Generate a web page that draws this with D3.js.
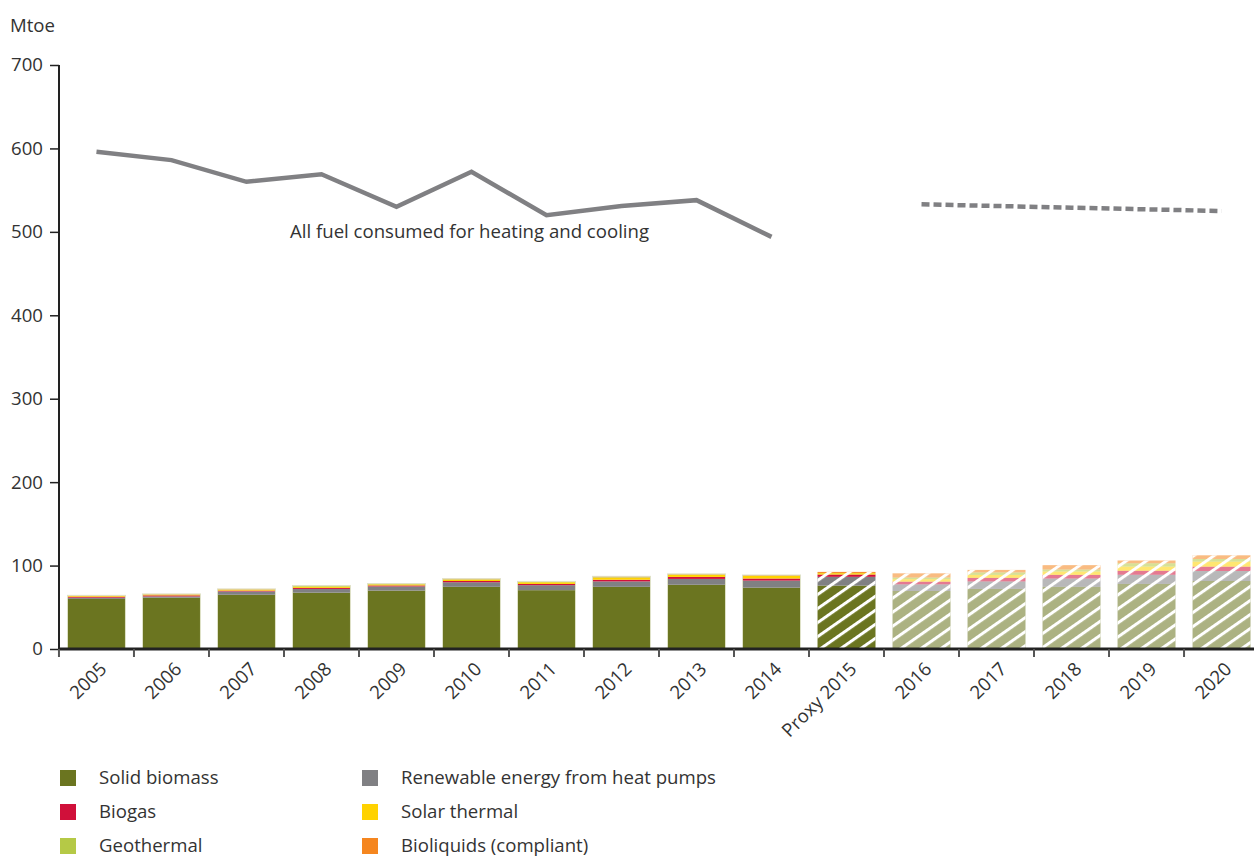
<!DOCTYPE html>
<html><head><meta charset="utf-8">
<script src="https://cdn.jsdelivr.net/npm/d3@7"></script>
<style>
body{margin:0;background:#fff;}
text{font-family:"Open Sans",sans-serif;fill:#333;}
</style></head>
<body>
<svg id="chart" width="1254" height="857"></svg>
<script>
const years = ["2005","2006","2007","2008","2009","2010","2011","2012","2013","2014","Proxy 2015","2016","2017","2018","2019","2020"];
const solidBiomass = [60, 61.5, 65, 67.5, 70, 74.5, 70.5, 74.5, 77, 73.5, 76, 69.5, 72, 74.5, 78, 81.5];
const heatPumps    = [1.5, 1.5, 4, 4.5, 5, 5.5, 6, 6.5, 7, 8.5, 10.5, 8, 9, 10, 11, 12];
const biogas       = [1.2, 1.3, 1, 1.3, 1.2, 1.5, 1.5, 2, 2.4, 2.5, 2.8, 3.2, 4.3, 4.4, 4.8, 5.2];
const solarThermal = [1, 1, 1.2, 1.5, 1.3, 1.7, 2, 2.5, 2.5, 3, 1.6, 3, 3.5, 4, 5, 6];
const geothermal   = [0.3, 0.3, 0.4, 0.8, 0.4, 0.5, 0.5, 0.6, 0.6, 0.6, 0.3, 2, 3, 2.4, 4, 3.2];
const bioliquids   = [0.3, 0.4, 0.4, 0.4, 0.5, 0.6, 0.5, 1, 0.5, 0.6, 1.2, 5, 3, 5.2, 3.3, 4.4];
const fuelYearsHist = ["2005","2006","2007","2008","2009","2010","2011","2012","2013","2014"];
const fuelHist      = [596, 586, 560, 569, 530, 572, 520, 531, 538, 494];
const fuelYearsProj = ["2016","2017","2018","2019","2020"];
const fuelProj      = [533, 531, 529, 527, 525];
const yTicks = [0,100,200,300,400,500,600,700];
const seriesNames = ["Solid biomass","Renewable energy from heat pumps","Biogas","Solar thermal","Geothermal","Bioliquids (compliant)"];
const seriesColors = ["#6b7520","#808083","#d0103a","#ffd200","#b5c946","#f5861f"];

const FS = 18.6;
const svg = d3.select("#chart");
const x = d3.scaleBand().domain(years).range([59,1259]).paddingInner(0.227).paddingOuter(0.113);
const y = d3.scaleLinear().domain([0,700]).range([649,65]);

const defs = svg.append("defs");
const pat = defs.append("pattern").attr("id","hatch").attr("patternUnits","userSpaceOnUse")
  .attr("width",11.5).attr("height",11.5).attr("patternTransform","rotate(55)");
pat.append("rect").attr("x",0).attr("y",0).attr("width",3).attr("height",11.5).attr("fill","#fff");

const table = years.map((yr,i)=>({year:yr, s0:solidBiomass[i], s1:heatPumps[i], s2:biogas[i], s3:solarThermal[i], s4:geothermal[i], s5:bioliquids[i]}));
const stack = d3.stack().keys(["s0","s1","s2","s3","s4","s5"])(table);
const total = d=>d.s0+d.s1+d.s2+d.s3+d.s4+d.s5;

const gBars = svg.append("g");
stack.forEach((layer,k)=>{
  gBars.selectAll(null).data(layer).enter().append("rect")
    .attr("x",d=>x(d.data.year))
    .attr("width",x.bandwidth())
    .attr("y",d=>y(d[1]))
    .attr("height",d=>Math.max(0,y(d[0])-y(d[1])))
    .attr("fill",seriesColors[k])
    .attr("opacity",d=>{const i=years.indexOf(d.data.year); return i>10?0.56:1;});
});
gBars.selectAll(null).data(table.filter((d,i)=>i<10)).enter().append("rect")
  .attr("x",d=>x(d.year)).attr("width",x.bandwidth())
  .attr("y",d=>y(total(d)))
  .attr("height",d=>y(0)-y(total(d)))
  .attr("fill","none").attr("stroke","#dfe2c8").attr("stroke-width",1);
gBars.selectAll(null).data(table.filter((d,i)=>i>=10)).enter().append("rect")
  .attr("x",d=>x(d.year)).attr("width",x.bandwidth())
  .attr("y",d=>y(total(d)))
  .attr("height",d=>y(0)-y(total(d)))
  .attr("fill","url(#hatch)");

const cx = d=>x(d)+x.bandwidth()/2;
const line = d3.line().x(d=>cx(d[0])).y(d=>y(d[1]));
svg.append("path").datum(fuelYearsHist.map((d,i)=>[d,fuelHist[i]])).attr("d",line)
  .attr("fill","none").attr("stroke","#808083").attr("stroke-width",4.5).attr("stroke-linejoin","miter");
svg.append("path").datum(fuelYearsProj.map((d,i)=>[d,fuelProj[i]])).attr("d",line)
  .attr("fill","none").attr("stroke","#808083").attr("stroke-width",4.5).attr("stroke-dasharray","8,4");
svg.append("text").attr("x",290).attr("y",238).attr("font-size",FS).text("All fuel consumed for heating and cooling");

const yAxis = svg.append("g").attr("transform","translate(59,0)")
  .call(d3.axisLeft(y).tickValues(yTicks).tickSize(9).tickPadding(7));
yAxis.select(".domain").attr("stroke","#222").attr("stroke-width",2).attr("d","M0,65V649");
yAxis.selectAll(".tick line").attr("stroke","#222").attr("stroke-width",1.5);
yAxis.selectAll("text").attr("font-size",FS).attr("fill","#333").style("font-family","Open Sans");

const gx = svg.append("g").attr("transform","translate(0,649)");
gx.append("line").attr("x1",59).attr("x2",1254).attr("y1",0).attr("y2",0).attr("stroke","#222").attr("stroke-width",3);
const bounds = years.map(d=>x(d)-x.step()*x.paddingInner()/2);
gx.selectAll(null).data(bounds).enter().append("line")
  .attr("x1",d=>d).attr("x2",d=>d).attr("y1",0).attr("y2",8).attr("stroke","#555").attr("stroke-width",2);
gx.selectAll(null).data(years).enter().append("text")
  .attr("transform",d=>`translate(${cx(d)+2},${12}) rotate(-45)`)
  .attr("text-anchor","end").attr("dy","0.7em").attr("font-size",FS).text(d=>d);

svg.append("text").attr("x",10).attr("y",32).attr("font-size",FS).text("Mtoe");

const legendOrder = [0,2,4,1,3,5];
legendOrder.forEach((k,j)=>{
  const col = Math.floor(j/3), row = j%3;
  const lx = col===0?60:362, ly = 770+row*34;
  svg.append("rect").attr("x",lx).attr("y",ly).attr("width",16).attr("height",16).attr("fill",seriesColors[k]);
  svg.append("text").attr("x",lx+39).attr("y",ly+14).attr("font-size",FS).text(seriesNames[k]);
});
</script>
</body></html>
